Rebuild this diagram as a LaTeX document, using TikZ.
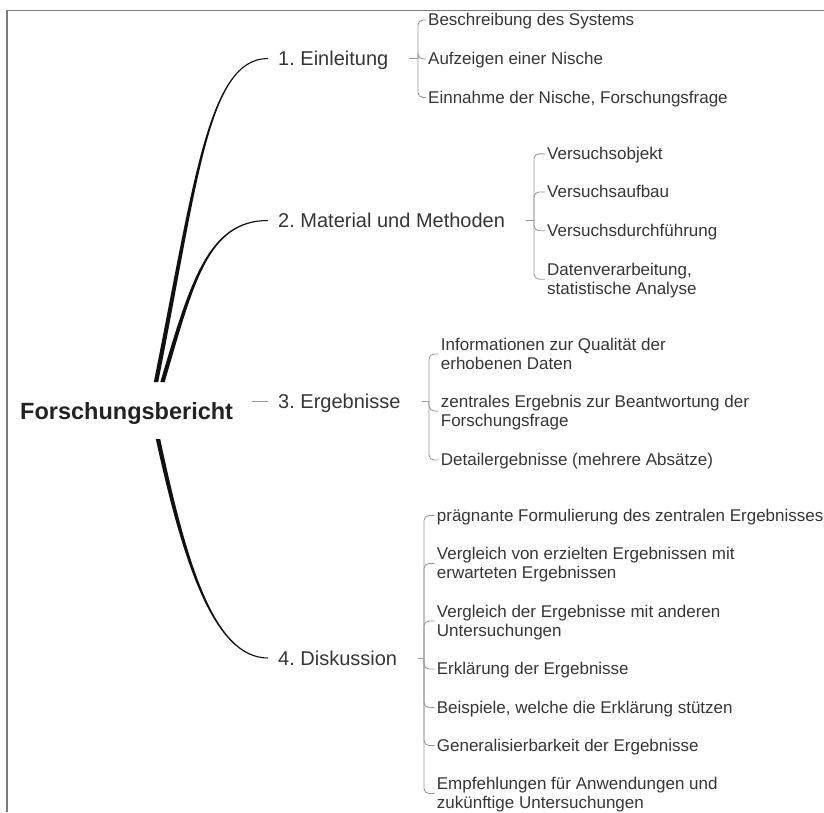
\documentclass[tikz,border=0pt]{standalone}
\usepackage{fontspec}
\setmainfont{Liberation Sans}
\frenchspacing
\definecolor{textgray}{HTML}{363636}
\definecolor{rootcol}{HTML}{222222}
\definecolor{subgray}{HTML}{9A9A9A}
\definecolor{curvecol}{HTML}{111111}
\definecolor{framecol}{HTML}{7A7A7A}
\newcommand\tlone[1]{\hbox{\rule[-1pt]{0pt}{13pt}\smash{#1}}}
\newcommand\tltwo[2]{\vtop{\baselineskip=19pt\lineskiplimit=-30pt\lineskip=0pt\hbox{\rule[-1pt]{0pt}{13pt}\smash{#1}}\hbox{\rule[-1pt]{0pt}{13pt}\smash{#2}}}}
\begin{document}
\begin{tikzpicture}[x=1pt,y=-1pt,
  txt/.style={text=textgray, inner sep=0pt},
  rootnode/.style={txt, text=rootcol, font=\bfseries\fontsize{23.5}{28}\selectfont, anchor=base west},
  branch/.style={txt, font=\fontsize{20}{24}\selectfont, anchor=base west, inner xsep=10pt, inner ysep=0pt, text height=14pt, text depth=0pt},
  leaf/.style={txt, font=\fontsize{17}{19}\selectfont, anchor=base west, inner xsep=2pt, inner ysep=0pt},
  sub/.style={draw=subgray, line width=0.9pt, rounded corners=5pt},
  tickline/.style={draw=subgray, line width=0.9pt},
  mainline/.style={fill=curvecol, draw=none}]
\useasboundingbox (0,0) rectangle (824,812);
\fill[white] (0,0) rectangle (824,812);
\draw[framecol, line width=1.6pt] (7,812) -- (7,10.3) -- (824,10.3);

% root
\node[rootnode] (root) at (20,419) {Forschungsbericht};
\coordinate (r1) at (156,382);
\coordinate (r2) at (162.5,382);
\coordinate (r3) at (252,401);
\coordinate (r4) at (158,439);

% branches
\node[branch] (b1) at (268,65.5) {1. Einleitung};
\node[branch] (b2) at (268,227.5) {2. Material und Methoden};
\node[branch] (b3) at (268,408) {3. Ergebnisse};
\node[branch] (b4) at (268,665) {4. Diskussion};

% tapered main connectors
\fill[mainline] ([xshift=-2.2pt]r1) .. controls (194,182) and (208,57.5) .. ([yshift=0.5pt]b1.west)
  -- ([yshift=-0.5pt]b1.west) .. controls (208,59.5) and (198,182) .. ([xshift=2.2pt]r1) -- cycle;
\fill[mainline] ([xshift=-2.2pt]r2) .. controls (190,282) and (208,219.5) .. ([yshift=0.5pt]b2.west)
  -- ([yshift=-0.5pt]b2.west) .. controls (208,221.5) and (194,282) .. ([xshift=2.2pt]r2) -- cycle;
\fill[mainline] ([xshift=-2.2pt]r4) .. controls (182,559) and (213,659) .. ([yshift=-0.5pt]b4.west)
  -- ([yshift=0.5pt]b4.west) .. controls (213,657) and (186,559) .. ([xshift=2.2pt]r4) -- cycle;
\draw[tickline] (r3) -- (b3.west);

% branch 1
\coordinate (t1) at (418,58.5);
\node[leaf] (a1) at (426,25.5) {\tlone{Beschreibung des Systems}};
\node[leaf] (a2) at (426,64.5) {\tlone{Aufzeigen einer Nische}};
\node[leaf] (a3) at (426,103) {\tlone{Einnahme der Nische, Forschungsfrage}};
\draw[tickline] ([xshift=11pt]b1.east) -- (t1);
\draw[sub] (a1.west) -| (t1);
\draw[sub] (a2.west) -| (t1);
\draw[sub] (a3.west) -| (t1);

% branch 2
\coordinate (t2) at (534,220.5);
\node[leaf] (m1) at (545,159.3) {\tlone{Versuchsobjekt}};
\node[leaf] (m2) at (545,197.5) {\tlone{Versuchsaufbau}};
\node[leaf] (m3) at (545,236.2) {\tlone{Versuchsdurchführung}};
\node[leaf] (m4) at (545,275.2) {\tltwo{Datenverarbeitung,}{statistische Analyse}};
\draw[tickline] ([xshift=11pt]b2.east) -- (t2);
\draw[sub] (m1.west) -| (t2);
\draw[sub] (m2.west) -| (t2);
\draw[sub] (m3.west) -| (t2);
\draw[sub] (m4.west) -| (t2);

% branch 3
\coordinate (t3) at (429,401);
\node[leaf] (e1) at (438.7,350) {\tltwo{Informationen zur Qualität der}{erhobenen Daten}};
\node[leaf] (e2) at (438.7,407) {\tltwo{zentrales Ergebnis zur Beantwortung der}{Forschungsfrage}};
\node[leaf] (e3) at (438.7,465.5) {\tlone{Detailergebnisse (mehrere Absätze)}};
\draw[tickline] ([xshift=11pt]b3.east) -- (t3);
\draw[sub] (e1.west) -| (t3);
\draw[sub] (e2.west) -| (t3);
\draw[sub] (e3.west) -| (t3);

% branch 4
\coordinate (t4) at (424,658);
\node[leaf] (d1) at (434.7,521) {\tlone{prägnante Formulierung des zentralen Ergebnisses}};
\node[leaf] (d2) at (434.7,559.5) {\tltwo{Vergleich von erzielten Ergebnissen mit}{erwarteten Ergebnissen}};
\node[leaf] (d3) at (434.7,617) {\tltwo{Vergleich der Ergebnisse mit anderen}{Untersuchungen}};
\node[leaf] (d4) at (434.7,674.5) {\tlone{Erklärung der Ergebnisse}};
\node[leaf] (d5) at (434.7,713) {\tlone{Beispiele, welche die Erklärung stützen}};
\node[leaf] (d6) at (434.7,751) {\tlone{Generalisierbarkeit der Ergebnisse}};
\node[leaf] (d7) at (434.7,789.5) {\tltwo{Empfehlungen für Anwendungen und}{zukünftige Untersuchungen}};
\draw[tickline] ([xshift=11pt]b4.east) -- (t4);
\foreach \n in {d1,d2,d3,d4,d5,d6,d7} \draw[sub] (\n.west) -| (t4);
\end{tikzpicture}
\end{document}
